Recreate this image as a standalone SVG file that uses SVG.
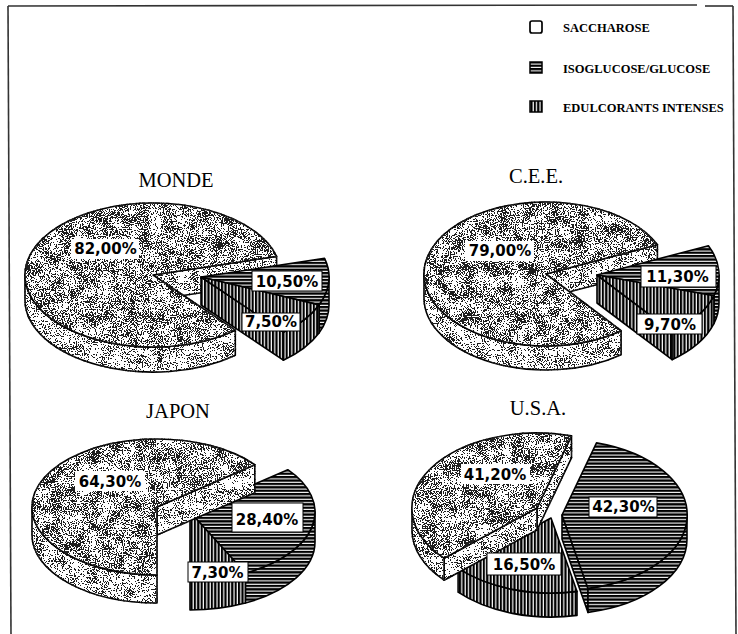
<svg xmlns="http://www.w3.org/2000/svg" width="738" height="634" viewBox="0 0 738 634">
  <defs>
    <!-- stippled grain for the saccharose slices: fine dots with a light coarse clumping, thresholded -->
    <filter id="grain-top" filterUnits="userSpaceOnUse" x="0" y="0" width="738" height="634" color-interpolation-filters="sRGB">
      <feTurbulence type="fractalNoise" baseFrequency="0.85" numOctaves="1" seed="4" result="fine"/>
      <feColorMatrix in="fine" type="matrix" values="1 0 0 0 0  1 0 0 0 0  1 0 0 0 0  0 0 0 0 1" result="f1"/>
      <feTurbulence type="fractalNoise" baseFrequency="0.08" numOctaves="2" seed="11" result="coarse"/>
      <feColorMatrix in="coarse" type="matrix" values="1 0 0 0 0  1 0 0 0 0  1 0 0 0 0  0 0 0 0 1" result="c1"/>
      <feComposite in="f1" in2="c1" operator="arithmetic" k1="0" k2="0.85" k3="0.3" k4="-0.075" result="mix"/>
      <feColorMatrix in="mix" type="matrix" values="0 0 0 0 0.12  0 0 0 0 0.12  0 0 0 0 0.12  1 0 0 0 0" result="a"/>
      <feComponentTransfer in="a" result="dots0">
        <feFuncA type="discrete" tableValues="0 0 0 0 0 0 0 0 0 0 0 0 0 1 1 1 1 1 1 1 1 1 1 1 1"/>
      </feComponentTransfer>
      <feComposite in="dots0" in2="SourceAlpha" operator="in" result="dots"/>
      <feMerge><feMergeNode in="SourceGraphic"/><feMergeNode in="dots"/></feMerge>
    </filter>
    <filter id="grain-side" filterUnits="userSpaceOnUse" x="0" y="0" width="738" height="634" color-interpolation-filters="sRGB">
      <feTurbulence type="fractalNoise" baseFrequency="0.85" numOctaves="1" seed="8" result="fine"/>
      <feColorMatrix in="fine" type="matrix" values="1 0 0 0 0  1 0 0 0 0  1 0 0 0 0  0 0 0 0 1" result="f1"/>
      <feTurbulence type="fractalNoise" baseFrequency="0.09" numOctaves="2" seed="5" result="coarse"/>
      <feColorMatrix in="coarse" type="matrix" values="1 0 0 0 0  1 0 0 0 0  1 0 0 0 0  0 0 0 0 1" result="c1"/>
      <feComposite in="f1" in2="c1" operator="arithmetic" k1="0" k2="0.85" k3="0.3" k4="-0.075" result="mix"/>
      <feColorMatrix in="mix" type="matrix" values="0 0 0 0 0.12  0 0 0 0 0.12  0 0 0 0 0.12  1 0 0 0 0" result="a"/>
      <feComponentTransfer in="a" result="dots0">
        <feFuncA type="discrete" tableValues="0 0 0 0 0 0 0 0 0 0 0 0 0 0 1 1 1 1 1 1 1 1 1 1 1"/>
      </feComponentTransfer>
      <feComposite in="dots0" in2="SourceAlpha" operator="in" result="dots"/>
      <feMerge><feMergeNode in="SourceGraphic"/><feMergeNode in="dots"/></feMerge>
    </filter>
    <!-- horizontal hatching: isoglucose / glucose -->
    <pattern id="hatch-h" width="8" height="3.4" patternUnits="userSpaceOnUse">
      <rect width="8" height="3.4" fill="#fff"/>
      <rect width="8" height="2.3" fill="#000"/>
    </pattern>
    <!-- vertical hatching: intense sweeteners -->
    <pattern id="hatch-v" width="3.4" height="8" patternUnits="userSpaceOnUse">
      <rect width="3.4" height="8" fill="#fff"/>
      <rect width="2.2" height="8" fill="#000"/>
    </pattern>
  </defs>
  <style>
    .edge { stroke: #000; stroke-width: 1.6; stroke-linejoin: round; }
    .s-top { fill: #fff; filter: url(#grain-top); }
    .s-side { fill: #fff; filter: url(#grain-side); }
    .iso { fill: url(#hatch-h); }
    .edul { fill: url(#hatch-v); }
    .title { font-family: "Liberation Serif", "Times New Roman", serif; font-size: 20.5px; fill: #000; text-anchor: middle; }
    .legend { font-family: "Liberation Serif", "Times New Roman", serif; font-size: 12.5px; font-weight: bold; fill: #000; }
    .pct { font-family: "DejaVu Sans", "Liberation Sans", sans-serif; font-size: 15px; font-weight: bold; fill: #000; text-anchor: middle; }
    .box { fill: #fff; }
    .box-line { fill: #fff; stroke: #000; stroke-width: 1; }
    .frame { stroke: #333; stroke-width: 1.6; fill: none; }
  </style>

  <rect width="738" height="634" fill="#fff"/>

  <!-- frame -->
  <g id="frame">
    <line class="frame" x1="8" y1="6" x2="11" y2="634"/>
    <line class="frame" x1="8" y1="6" x2="697" y2="5"/>
    <line class="frame" x1="705" y1="6" x2="733" y2="6"/>
    <line class="frame" x1="733" y1="6" x2="736" y2="634"/>
  </g>

  <!-- legend -->
  <g id="legend">
    <rect x="530" y="21" width="12" height="12" rx="2" fill="#fff" stroke="#000" stroke-width="1.7"/>
    <text class="legend" x="563" y="32">SACCHAROSE</text>
    <rect x="530" y="62" width="12" height="11" fill="url(#hatch-h)" stroke="#000" stroke-width="1.5"/>
    <text class="legend" x="563" y="73">ISOGLUCOSE/GLUCOSE</text>
    <rect x="530" y="101" width="12" height="11" fill="url(#hatch-v)" stroke="#000" stroke-width="1.5"/>
    <text class="legend" x="563" y="112">EDULCORANTS INTENSES</text>
  </g>

  <!-- MONDE -->
  <g id="monde">
    <text class="title" x="176" y="187">MONDE</text>
    <g id="monde-saccharose">
      <path class="s-side edge" d="M153,275 L276.6,256.4 L276.6,281.4 L153,300 Z"/>
      <path class="s-side edge" d="M235.3,330.2 A128,72 0 0 1 25,275 L25,300 A128,72 0 0 0 235.3,355.2 Z"/>
      <path class="s-top edge" d="M153,275 L235.3,330.2 A128,72 0 1 1 276.6,256.4 Z"/>
    </g>
    <g id="monde-isoglucose">
      <path class="iso edge" d="M329,277 A128,72 0 0 1 319,304.9 L319,332.9 A128,72 0 0 0 329,305 Z"/>
      <path class="iso edge" d="M201,277 L324.6,258.4 A128,72 0 0 1 319,304.9 Z"/>
    </g>
    <g id="monde-edulcorants">
      <path class="edul edge" d="M201,277 L283.3,332.2 L283.3,360.2 L201,305 Z"/>
      <path class="edul edge" d="M319,304.9 A128,72 0 0 1 283.3,332.2 L283.3,360.2 A128,72 0 0 0 319,332.9 Z"/>
      <path class="edul edge" d="M201,277 L319,304.9 A128,72 0 0 1 283.3,332.2 Z"/>
    </g>
    <rect class="box" x="71" y="239" width="68" height="20"/>
    <text class="pct" x="105.5" y="254">82,00%</text>
    <rect class="box-line" x="252" y="271" width="70" height="20"/>
    <text class="pct" x="287" y="287">10,50%</text>
    <rect class="box-line" x="242" y="313" width="58" height="18"/>
    <text class="pct" x="271" y="327">7,50%</text>
  </g>

  <!-- C.E.E. -->
  <g id="cee">
    <text class="title" x="536" y="183">C.E.E.</text>
    <g id="cee-saccharose">
      <path class="s-side edge" d="M546,274 L657.4,244.7 L657.4,268.7 L546,298 Z"/>
      <path class="s-side edge" d="M621.1,330.7 A122,72 0 0 1 424,274 L424,298 A122,72 0 0 0 621.1,354.7 Z"/>
      <path class="s-top edge" d="M546,274 L621.1,330.7 A122,72 0 1 1 657.4,244.7 Z"/>
    </g>
    <g id="cee-isoglucose">
      <path class="iso edge" d="M719,275 A122,72 0 0 1 713.9,295.7 L713.9,323.7 A122,72 0 0 0 719,303 Z"/>
      <path class="iso edge" d="M597,275 L708.4,245.7 A122,72 0 0 1 713.9,295.7 Z"/>
    </g>
    <g id="cee-edulcorants">
      <path class="edul edge" d="M597,275 L672.1,331.7 L672.1,359.7 L597,303 Z"/>
      <path class="edul edge" d="M713.9,295.7 A122,72 0 0 1 672.1,331.7 L672.1,359.7 A122,72 0 0 0 713.9,323.7 Z"/>
      <path class="edul edge" d="M597,275 L713.9,295.7 A122,72 0 0 1 672.1,331.7 Z"/>
    </g>
    <rect class="box" x="465" y="241" width="69" height="20"/>
    <text class="pct" x="500" y="256">79,00%</text>
    <rect class="box-line" x="641" y="266" width="75" height="21"/>
    <text class="pct" x="677.5" y="282">11,30%</text>
    <rect class="box-line" x="637" y="314" width="65" height="20"/>
    <text class="pct" x="670" y="330">9,70%</text>
  </g>

  <!-- JAPON -->
  <g id="japon">
    <text class="title" x="178" y="418">JAPON</text>
    <g id="japon-isoglucose">
      <path class="iso edge" d="M315,512 A125,68 0 0 1 245.4,573 L245.4,603 A125,68 0 0 0 315,542 Z"/>
      <path class="iso edge" d="M190,512 L287.8,469.7 A125,68 0 0 1 245.4,573 Z"/>
    </g>
    <g id="japon-edulcorants">
      <path class="edul edge" d="M245.4,573 A125,68 0 0 1 190,580 L190,610 A125,68 0 0 0 245.4,603 Z"/>
      <path class="edul edge" d="M190,512 L245.4,573 A125,68 0 0 1 190,580 Z"/>
    </g>
    <g id="japon-saccharose">
      <path class="s-side edge" d="M157,507 L254.8,464.7 L254.8,492.7 L157,535 Z"/>
      <path class="s-side edge" d="M157,575 A125,68 0 0 1 32,507 L32,535 A125,68 0 0 0 157,603 Z"/>
      <path class="s-top edge" d="M157,507 L157,575 A125,68 0 1 1 254.8,464.7 Z"/>
    </g>
    <rect class="box" x="75" y="471" width="70" height="20"/>
    <text class="pct" x="110" y="487">64,30%</text>
    <rect class="box-line" x="232" y="503" width="71" height="29"/>
    <text class="pct" x="267" y="525">28,40%</text>
    <rect class="box-line" x="188" y="562" width="60" height="20"/>
    <text class="pct" x="217.5" y="578">7,30%</text>
  </g>

  <!-- U.S.A. -->
  <g id="usa">
    <text class="title" x="538" y="415">U.S.A.</text>
    <g id="usa-isoglucose">
      <path class="iso edge" d="M562,515 L588,588.4 L588,612.4 L562,539 Z"/>
      <path class="iso edge" d="M687,515 A125,75 0 0 1 588,588.4 L588,612.4 A125,75 0 0 0 687,539 Z"/>
      <path class="iso edge" d="M562,515 L596.5,442.9 A125,75 0 0 1 588,588.4 Z"/>
    </g>
    <g id="usa-edulcorants">
      <path class="edul edge" d="M577,591.4 A125,75 0 0 1 458.1,568.2 L458.1,592.2 A125,75 0 0 0 577,615.4 Z"/>
      <path class="edul edge" d="M551,518 L577,591.4 A125,75 0 0 1 458.1,568.2 Z"/>
    </g>
    <g id="usa-saccharose">
      <path class="s-side edge" d="M537,508 L571.5,435.9 L571.5,457.9 L537,530 Z"/>
      <path class="s-side edge" d="M537,508 L444.1,558.2 L444.1,580.2 L537,530 Z"/>
      <path class="s-side edge" d="M444.1,558.2 A125,75 0 0 1 412,508 L412,530 A125,75 0 0 0 444.1,580.2 Z"/>
      <path class="s-top edge" d="M537,508 L444.1,558.2 A125,75 0 0 1 571.5,435.9 Z"/>
    </g>
    <rect class="box" x="461" y="464" width="69" height="20"/>
    <text class="pct" x="495" y="480">41,20%</text>
    <rect class="box-line" x="589" y="497" width="68" height="20"/>
    <text class="pct" x="623.5" y="512">42,30%</text>
    <rect class="box-line" x="487" y="553" width="74" height="22"/>
    <text class="pct" x="524" y="570">16,50%</text>
  </g>
</svg>
